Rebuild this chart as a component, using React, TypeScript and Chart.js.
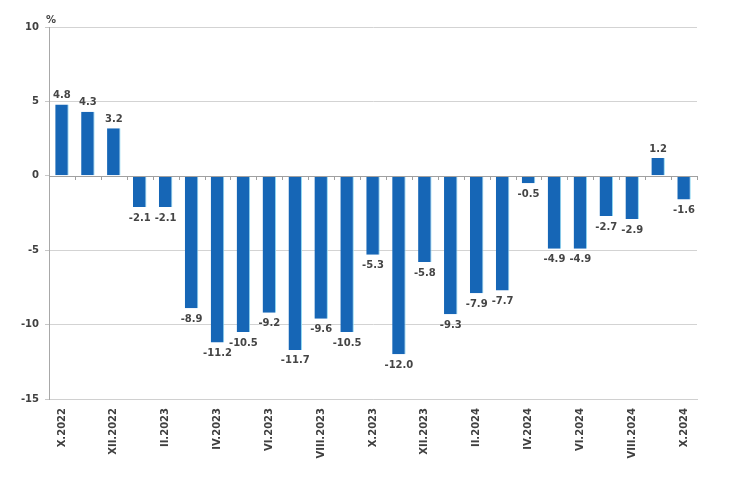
import React, { useEffect, useRef } from "react";
import { Chart, registerables } from "chart.js";

Chart.register(...registerables);

const categories = [
  "X.2022", "XI.2022", "XII.2022", "I.2023", "II.2023", "III.2023", "IV.2023",
  "V.2023", "VI.2023", "VII.2023", "VIII.2023", "IX.2023", "X.2023", "XI.2023",
  "XII.2023", "I.2024", "II.2024", "III.2024", "IV.2024", "V.2024", "VI.2024",
  "VII.2024", "VIII.2024", "IX.2024", "X.2024",
];
const values = [
  4.8, 4.3, 3.2, -2.1, -2.1, -8.9, -11.2, -10.5, -9.2, -11.7, -9.6, -10.5,
  -5.3, -12.0, -5.8, -9.3, -7.9, -7.7, -0.5, -4.9, -4.9, -2.7, -2.9, 1.2, -1.6,
];
const yTicks = [10, 5, 0, -5, -10, -15];
const unitLabel = "%";

const FONT = "'DejaVu Sans', Verdana, sans-serif";

const extrasPlugin = {
  id: "extras",
  afterDatasetsDraw(chart: any) {
    const ctx = chart.ctx;
    const meta = chart.getDatasetMeta(0);
    const xs = chart.scales.x;
    const ys = chart.scales.y;
    ctx.save();
    // zero line with ticks at category boundaries
    const y0 = Math.round(ys.getPixelForValue(0));
    ctx.strokeStyle = "#a0a0a0";
    ctx.lineWidth = 1;
    ctx.beginPath();
    ctx.moveTo(xs.left, y0 + 0.5);
    ctx.lineTo(xs.right, y0 + 0.5);
    const step = (xs.right - xs.left) / categories.length;
    for (let i = 1; i <= categories.length; i++) {
      const bx = Math.round(xs.getPixelForValue(i - 1) + step / 2) + 0.5;
      ctx.moveTo(bx, y0);
      ctx.lineTo(bx, y0 + 4);
    }
    ctx.stroke();
    // data labels
    ctx.font = `bold 10px ${FONT}`;
    ctx.fillStyle = "#454545";
    ctx.textAlign = "center";
    ctx.textBaseline = "middle";
    meta.data.forEach((bar: any, i: number) => {
      const v = values[i];
      const txt = v.toFixed(1);
      const y = v >= 0 ? bar.y - 9 : bar.y + 11;
      ctx.fillText(txt, bar.x, y);
    });
    // unit label
    ctx.textAlign = "left";
    ctx.textBaseline = "bottom";
    ctx.fillText(unitLabel, xs.left - 3, ys.top - 2);
    ctx.restore();
  },
};

export default function App() {
  const ref = useRef<HTMLCanvasElement | null>(null);
  useEffect(() => {
    if (!ref.current) return;
    const chart = new Chart(ref.current, {
      type: "bar",
      data: {
        labels: categories,
        datasets: [
          {
            data: values,
            backgroundColor: "#1666b6",
            borderColor: "#8fd8f2",
            borderWidth: { left: 0, right: 1, top: 0, bottom: 0 } as any,
            borderSkipped: false,
            barPercentage: 0.52,
            categoryPercentage: 1,
          },
        ],
      },
      options: {
        animation: false,
        responsive: true,
        maintainAspectRatio: false,
        layout: { padding: { left: 0, right: 43, top: 27, bottom: 0 } },
        plugins: {
          legend: { display: false },
          tooltip: { enabled: false },
        },
        scales: {
          x: {
            type: "category",
            grid: { display: false, drawTicks: false },
            border: { display: true, color: "#d0d0d0" },
            afterFit: (s: any) => {
              s.height = 80;
            },
            ticks: {
              autoSkip: false,
              maxRotation: 90,
              minRotation: 90,
              padding: 9,
              color: "#404040",
              font: { family: FONT, size: 10, weight: "bold" },
              callback: (_v: any, i: number) => (i % 2 === 0 ? categories[i] : ""),
            },
          },
          y: {
            min: -15,
            max: 10,
            afterBuildTicks: (s: any) => {
              s.ticks = yTicks.map((v) => ({ value: v }));
            },
            afterFit: (s: any) => {
              s.width = 49;
            },
            grid: {
              color: (c: any) => (c.tick && c.tick.value === 0 ? "rgba(0,0,0,0)" : "#d3d3d3"),
              tickLength: 4,
              tickColor: "#c8c8c8",
            },
            border: { display: true, color: "#a8a8a8" },
            ticks: {
              padding: 6,
              color: "#404040",
              font: { family: FONT, size: 10, weight: "bold" },
            },
          },
        },
      },
      plugins: [extrasPlugin],
    });
    return () => chart.destroy();
  }, []);
  return (
    <div style={{ position: "fixed", left: 0, top: 0, width: 740, height: 479, background: "#fff" }}>
      <canvas ref={ref} />
    </div>
  );
}
